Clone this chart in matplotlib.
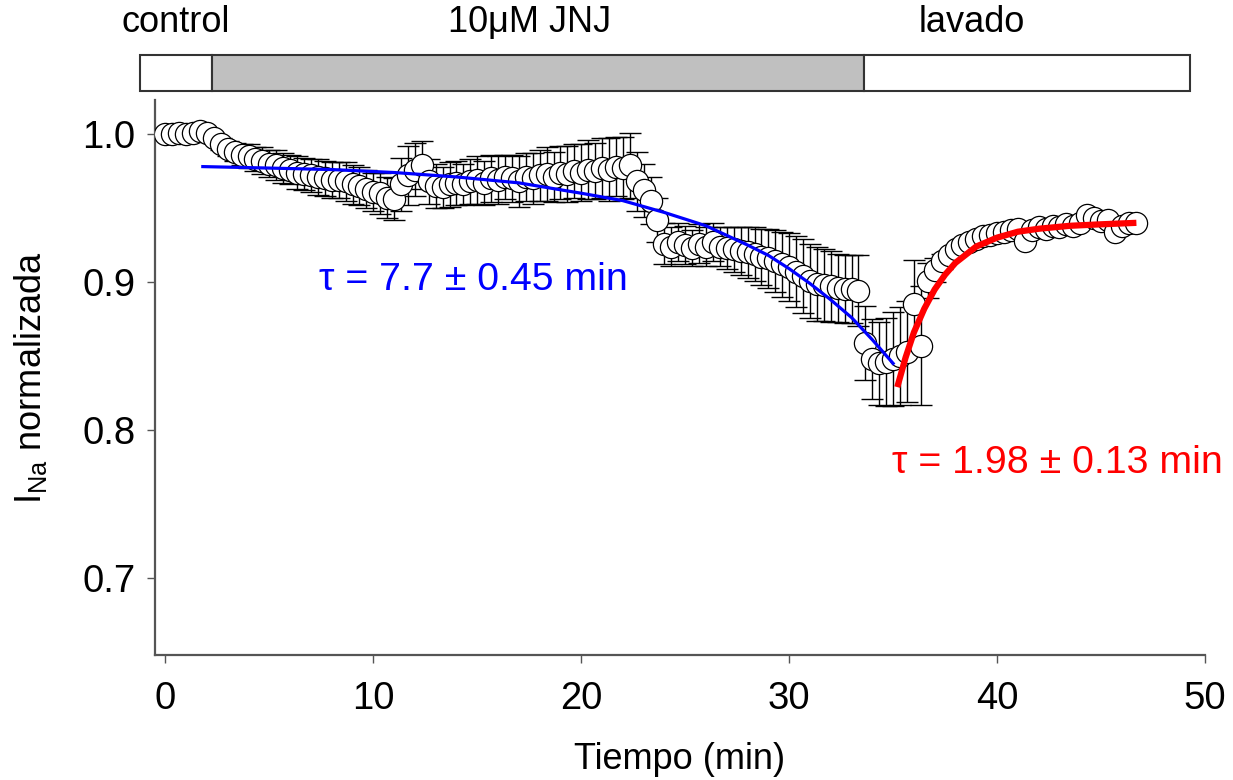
import numpy as np
import matplotlib
matplotlib.use('Agg')
import matplotlib.pyplot as plt

plt.rcParams['font.family'] = ['Liberation Sans', 'DejaVu Sans']
plt.rcParams['mathtext.fontset'] = 'custom'
plt.rcParams['mathtext.rm'] = 'Liberation Sans'

# sampling interval (min) of the recording
dt_min = 1.0 / 3.0

# normalized I_Na, one value per sample
inorm = [
    1.000, 1.000, 1.001, 1.000, 1.001, 1.002, 1.001, 0.997, 0.993, 0.990,
    0.988, 0.986, 0.985, 0.983, 0.982, 0.980, 0.979, 0.977, 0.976, 0.974,
    0.973, 0.972, 0.971, 0.970, 0.969, 0.969, 0.968, 0.966, 0.965, 0.963,
    0.961, 0.960, 0.957, 0.956, 0.966, 0.972, 0.976, 0.979, 0.968, 0.965,
    0.964, 0.966, 0.967, 0.966, 0.968, 0.969, 0.967, 0.970, 0.969, 0.971,
    0.970, 0.968, 0.971, 0.970, 0.972, 0.973, 0.971, 0.974, 0.973, 0.975,
    0.974, 0.976, 0.975, 0.977, 0.976, 0.978, 0.977, 0.979, 0.968, 0.962,
    0.955, 0.942, 0.926, 0.924, 0.927, 0.925, 0.923, 0.926, 0.924, 0.927,
    0.924, 0.923, 0.922, 0.921, 0.920, 0.919, 0.917, 0.916, 0.914, 0.912,
    0.910, 0.907, 0.904, 0.901, 0.899, 0.898, 0.897, 0.896, 0.895, 0.895,
    0.894, 0.859, 0.848, 0.845, 0.846, 0.848, 0.850, 0.853, 0.885, 0.857,
    0.901, 0.908, 0.914, 0.918, 0.922, 0.925, 0.927, 0.929, 0.931, 0.932,
    0.933, 0.934, 0.935, 0.936, 0.928, 0.935, 0.937, 0.936, 0.938, 0.937,
    0.939, 0.938, 0.940, 0.945, 0.943, 0.941, 0.942, 0.934, 0.938, 0.940,
    0.940,
]
# standard error
err = [
    0.000, 0.000, 0.000, 0.000, 0.000, 0.000, 0.001, 0.002, 0.004, 0.005,
    0.006, 0.007, 0.008, 0.008, 0.009, 0.009, 0.010, 0.010, 0.010, 0.011,
    0.011, 0.011, 0.012, 0.012, 0.012, 0.012, 0.013, 0.013, 0.013, 0.013,
    0.013, 0.014, 0.014, 0.014, 0.018, 0.020, 0.018, 0.016, 0.015, 0.015,
    0.014, 0.015, 0.015, 0.014, 0.015, 0.016, 0.015, 0.016, 0.016, 0.015,
    0.016, 0.017, 0.016, 0.017, 0.017, 0.018, 0.017, 0.018, 0.019, 0.018,
    0.019, 0.020, 0.019, 0.020, 0.021, 0.020, 0.021, 0.022, 0.020, 0.018,
    0.016, 0.015, 0.014, 0.013, 0.013, 0.013, 0.012, 0.013, 0.013, 0.013,
    0.013, 0.014, 0.015, 0.016, 0.017, 0.018, 0.019, 0.020, 0.021, 0.022,
    0.023, 0.024, 0.025, 0.025, 0.025, 0.024, 0.024, 0.023, 0.023, 0.023,
    0.024, 0.025, 0.027, 0.028, 0.030, 0.032, 0.033, 0.034, 0.030, 0.040,
    0.012, 0.008, 0.005, 0.003, 0.002, 0.002, 0.001, 0.001, 0.001, 0.001,
    0.001, 0.001, 0.001, 0.001, 0.001, 0.001, 0.001, 0.001, 0.001, 0.001,
    0.001, 0.001, 0.001, 0.001, 0.001, 0.001, 0.001, 0.001, 0.001, 0.001,
    0.001,
]
t = np.arange(len(inorm)) * dt_min

# fitted curves
blue_t = [1.8, 5, 8, 11, 14, 17, 20, 22, 24, 26, 28, 29, 30, 31, 32, 33, 34, 35.0]
blue_y = [0.978, 0.977, 0.976, 0.974, 0.971, 0.967, 0.960, 0.955, 0.947, 0.938,
          0.925, 0.918, 0.909, 0.899, 0.888, 0.876, 0.861, 0.845]
red_t = [35.2, 35.6, 36.0, 36.5, 37.0, 37.5, 38.0, 39.0, 40.0, 41.0, 42.0, 43.5, 45.0, 46.7]
red_y = [0.829, 0.849, 0.866, 0.882, 0.895, 0.905, 0.913, 0.924, 0.930, 0.934,
         0.936, 0.938, 0.939, 0.940]

# protocol bar
phase_names = ['control', '10\u03bcM JNJ', 'lavado']
phase_start = [-1.2, 2.26, 33.6]
phase_end = [2.26, 33.6, 49.3]
phase_color = ['white', '#c0c0c0', 'white']
phase_label_x = [0.5, 17.5, 38.8]

fs = 26
fig = plt.figure(figsize=(12.33, 7.8), dpi=100)
ax = fig.add_axes([0.1257, 0.1603, 0.8516, 0.7115])

ax.errorbar(t, inorm, yerr=err, fmt='none', ecolor='black', elinewidth=1.0,
            capsize=8, capthick=1.0, zorder=2)
ax.plot(t, inorm, 'o', ms=16, mfc='white', mec='black', mew=0.9, zorder=3)
ax.plot(blue_t, blue_y, color='#0000ff', lw=2.3, zorder=4)
ax.plot(red_t, red_y, color='#ff0000', lw=4.5, zorder=4, solid_capstyle='butt')

ax.text(7.4, 0.8946, '\u03c4 = 7.7 \u00b1 0.45 min', color='#0000ff', fontsize=28.3)
ax.text(34.95, 0.771, '\u03c4 = 1.98 \u00b1 0.13 min', color='#ff0000', fontsize=28.3)

ax.set_xlim(-0.5, 50)
ax.set_ylim(0.648, 1.023)
ax.set_xticks([0, 10, 20, 30, 40, 50])
ax.set_yticks([0.7, 0.8, 0.9, 1.0])
ax.set_yticklabels(['0.7', '0.8', '0.9', '1.0'])
for s in ['top', 'right']:
    ax.spines[s].set_visible(False)
for s in ['left', 'bottom']:
    ax.spines[s].set_color('#555555')
    ax.spines[s].set_linewidth(1.6)
ax.tick_params(axis='x', direction='out', length=6, width=1, color='#555555',
               labelsize=27.5, pad=13)
ax.tick_params(axis='y', direction='out', length=6, width=1, color='#555555',
               labelsize=27.5, pad=8)
ax.set_xlabel('Tiempo (min)', fontsize=fs, labelpad=18)
ax.set_ylabel(r'I$_{\mathrm{Na}}$ normalizada', fontsize=fs, labelpad=24)

# protocol bar on top
bx = fig.add_axes([0.1257, 1 - 91 / 780, 0.8516, 36 / 780])
bx.set_xlim(-0.5, 50)
bx.set_ylim(0, 1)
for x0, x1, c in zip(phase_start, phase_end, phase_color):
    bx.barh(0.5, x1 - x0, left=x0, height=1.0, color=c, edgecolor='#333333',
            linewidth=1.5, clip_on=False)
for name, xc in zip(phase_names, phase_label_x):
    bx.text(xc, 1.9, name, ha='center', va='center', fontsize=fs, clip_on=False)
bx.axis('off')

fig.savefig('out.png', dpi=100)
